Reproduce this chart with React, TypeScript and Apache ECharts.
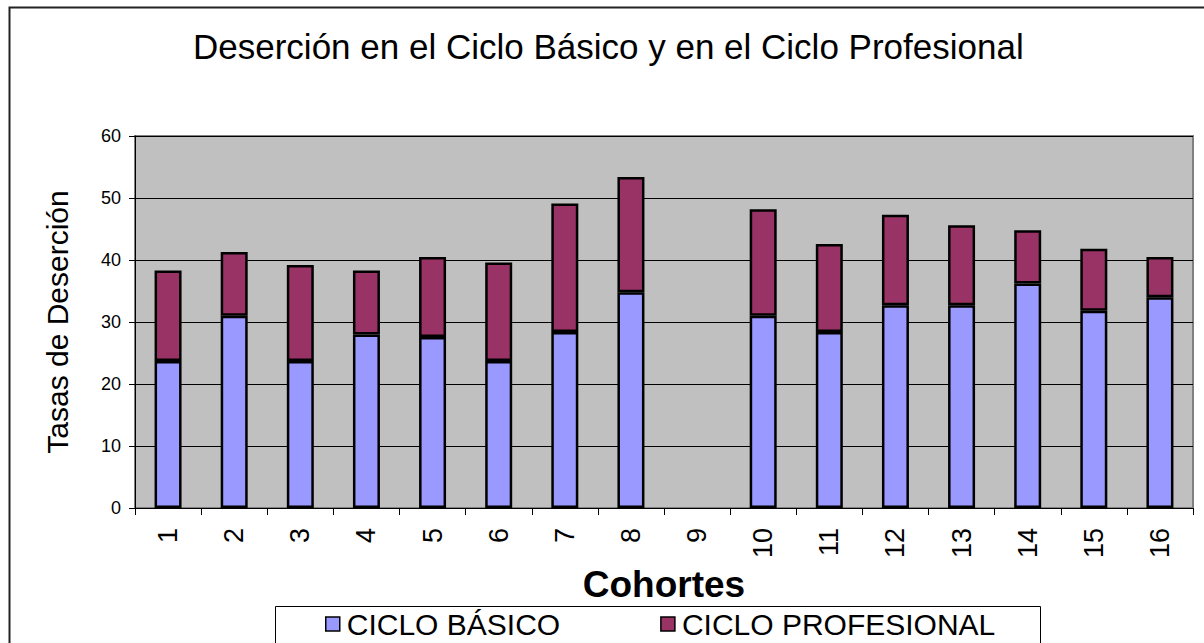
import React, { useEffect, useRef } from "react";
import * as echarts from "echarts";

const categories = ["1", "2", "3", "4", "5", "6", "7", "8", "9", "10", "11", "12", "13", "14", "15", "16"];
const cicloBasico = [23.7, 31.0, 23.7, 28.0, 27.6, 23.7, 28.4, 34.8, null, 31.0, 28.4, 32.7, 32.7, 36.2, 31.8, 34.0];
const cicloProfesional = [14.6, 10.3, 15.5, 10.3, 12.9, 15.9, 20.7, 18.6, null, 17.2, 14.2, 14.6, 12.9, 8.6, 10.0, 6.5];
const yTicks = { min: 0, max: 60, interval: 10 };

const FONT = "'Liberation Sans', Arial, sans-serif";

export default function App() {
  const ref = useRef<HTMLDivElement>(null);

  useEffect(() => {
    document.body.style.margin = "0";
    if (!ref.current) return;
    const chart = echarts.init(ref.current, null, { renderer: "svg" });
    chart.setOption({
      animation: false,
      backgroundColor: "#ffffff",
      textStyle: { fontFamily: FONT, color: "#000" },
      title: {
        text: "Deserción en el Ciclo Básico y en el Ciclo Profesional",
        left: 188,
        top: 24,
        textStyle: { fontFamily: FONT, fontSize: 35, fontWeight: "normal", color: "#000" },
      },
      grid: {
        left: 135,
        right: 11,
        top: 136,
        bottom: 135,
        show: true,
        backgroundColor: "#C0C0C0",
        borderColor: "#808080",
        borderWidth: 2,
      },
      legend: {
        left: 325,
        top: 609,
        padding: 0,
        itemWidth: 14,
        itemHeight: 14,
        itemGap: 100,
        icon: "rect",
        textStyle: { fontFamily: FONT, fontSize: 30, color: "#000", padding: [0, 0, 0, 2] },
        data: [
          { name: "CICLO BÁSICO", itemStyle: { color: "#9999FF", borderColor: "#000", borderWidth: 1.5 } },
          { name: "CICLO PROFESIONAL", itemStyle: { color: "#993366", borderColor: "#000", borderWidth: 1.5 } },
        ],
      },
      xAxis: {
        type: "category",
        data: categories,
        name: "Cohortes",
        nameLocation: "middle",
        nameGap: 54,
        nameTextStyle: { fontFamily: FONT, fontSize: 37, fontWeight: "bold", color: "#000" },
        axisLine: { lineStyle: { color: "#000", width: 1 } },
        axisTick: { show: true, length: 7, lineStyle: { color: "#000" } },
        axisLabel: { rotate: 90, fontSize: 27, color: "#000", margin: 20, fontFamily: FONT },
      },
      yAxis: {
        type: "value",
        min: yTicks.min,
        max: yTicks.max,
        interval: yTicks.interval,
        name: "Tasas de Deserción",
        nameLocation: "middle",
        nameGap: 63,
        nameTextStyle: { fontFamily: FONT, fontSize: 30, color: "#000" },
        axisLine: { show: true, lineStyle: { color: "#000", width: 1 } },
        axisTick: { show: true, length: 6, lineStyle: { color: "#000" } },
        axisLabel: { fontSize: 18, color: "#000", margin: 14, fontFamily: FONT },
        splitLine: { show: true, lineStyle: { color: "#000", width: 1 } },
      },
      series: [
        {
          name: "CICLO BÁSICO",
          type: "bar",
          stack: "total",
          data: cicloBasico,
          barWidth: 27,
          itemStyle: { color: "#9999FF", borderColor: "#000", borderWidth: 2.5 },
        },
        {
          name: "CICLO PROFESIONAL",
          type: "bar",
          stack: "total",
          data: cicloProfesional,
          barWidth: 27,
          itemStyle: { color: "#993366", borderColor: "#000", borderWidth: 2.5 },
        },
      ],
      graphic: [
        {
          type: "rect",
          left: 7,
          top: 5,
          shape: { width: 1300, height: 700 },
          style: { fill: "none", stroke: "#222", lineWidth: 2 },
          silent: true,
        },
        {
          type: "rect",
          left: 273,
          top: 604,
          shape: { width: 765, height: 80 },
          style: { fill: "none", stroke: "#000", lineWidth: 1 },
          silent: true,
        },
      ],
    });
    return () => chart.dispose();
  }, []);

  return <div ref={ref} style={{ width: 1204, height: 643 }} />;
}
